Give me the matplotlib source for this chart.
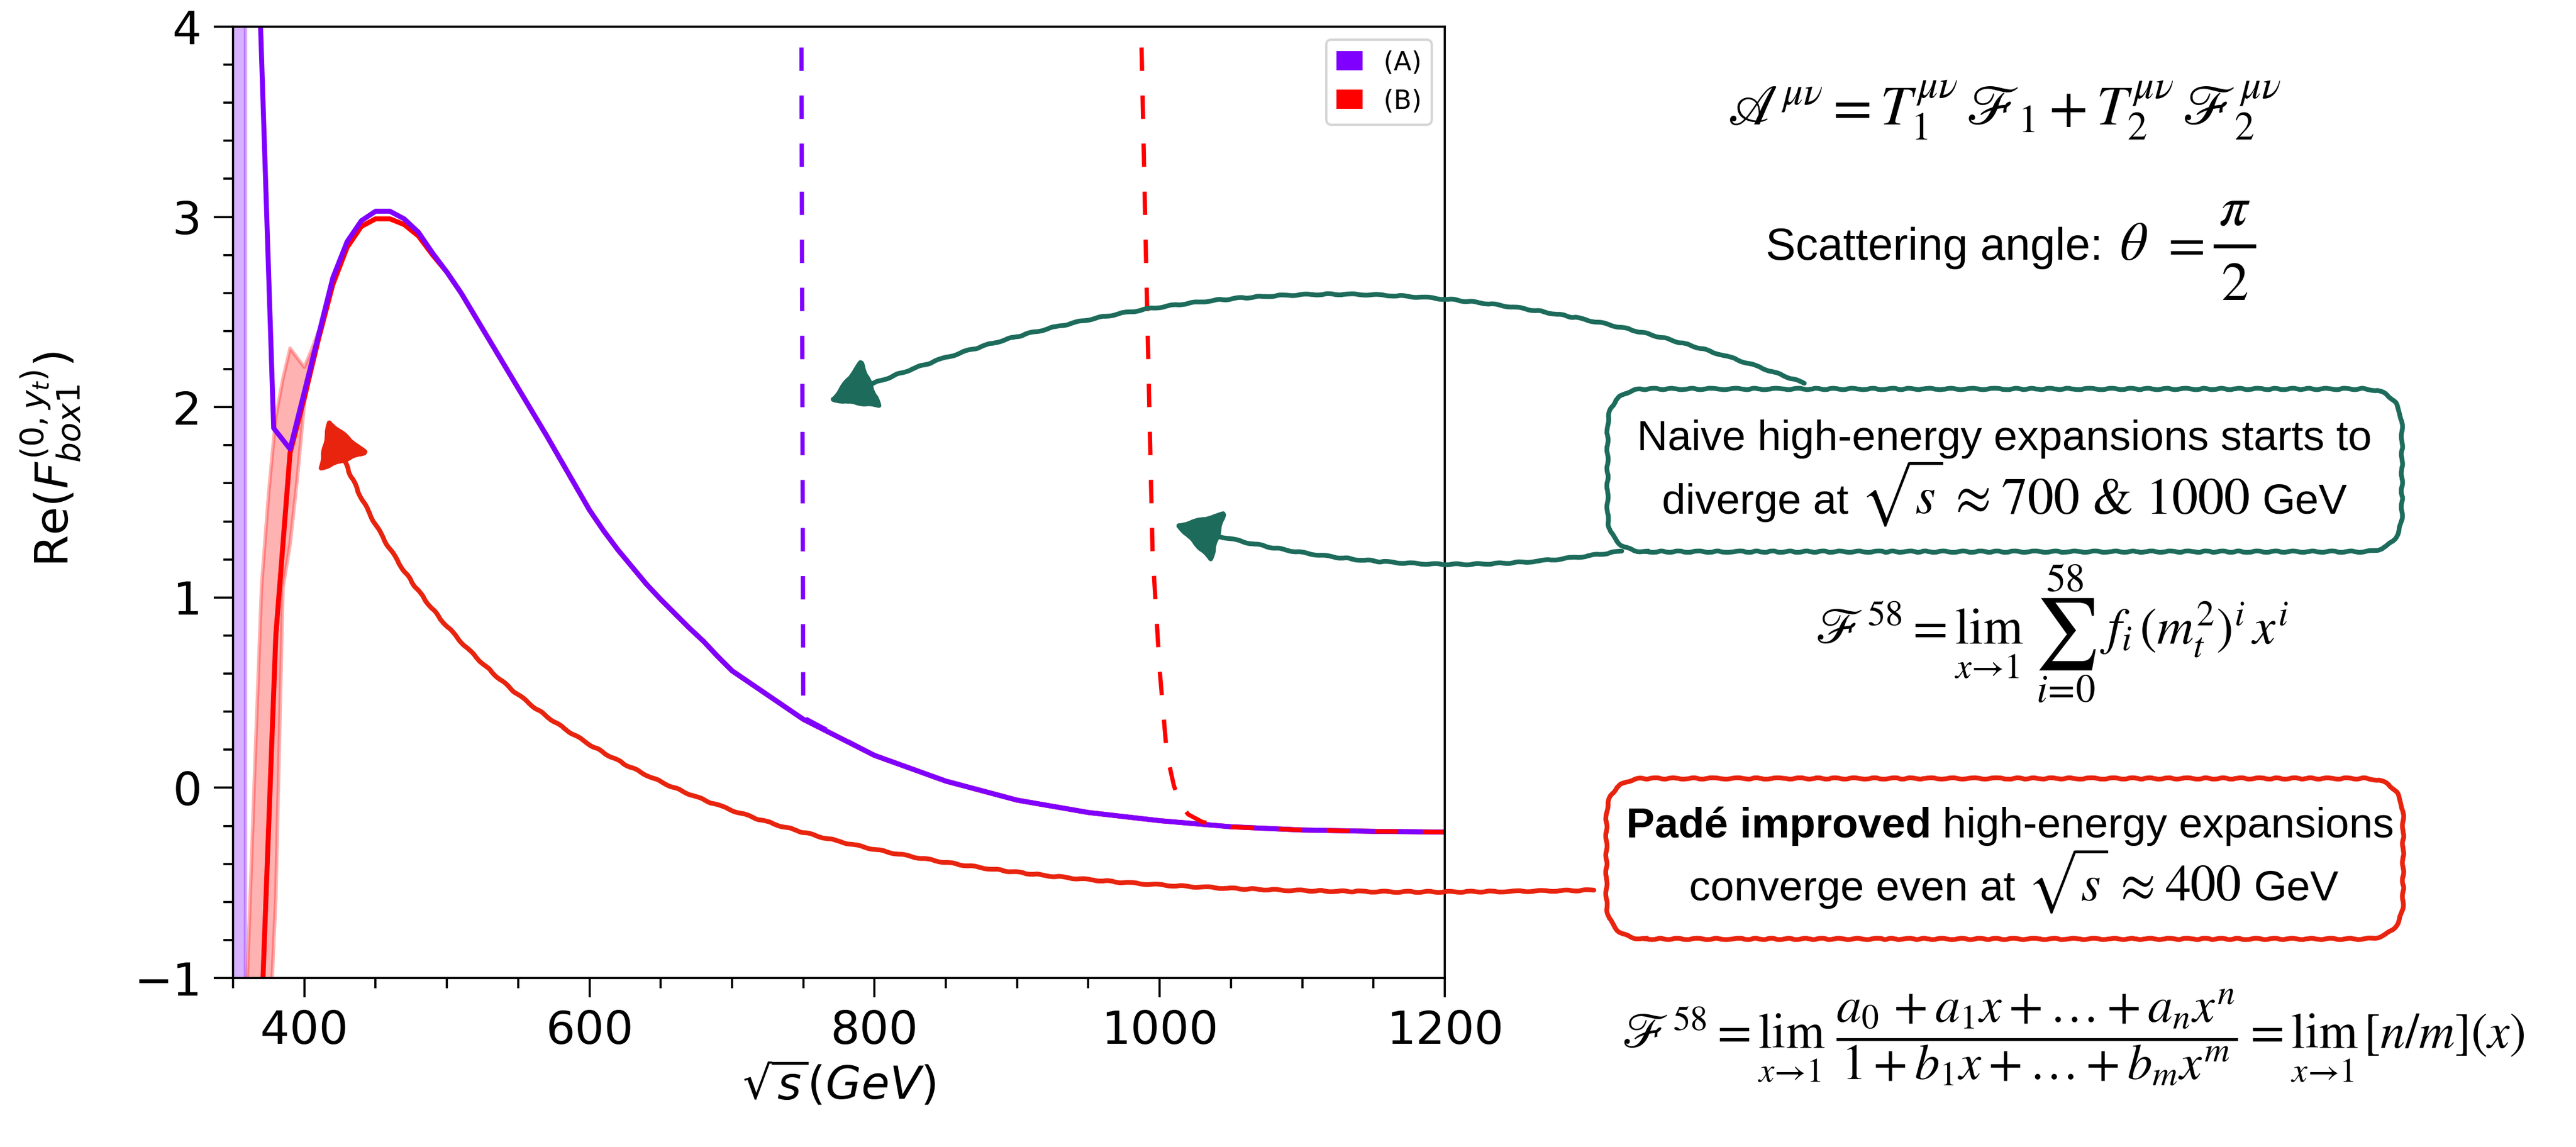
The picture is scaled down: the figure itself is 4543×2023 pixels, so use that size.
#!/usr/bin/env python3
# Re(F_box1) vs sqrt(s): exact curves (A)/(B), naive high-energy expansions (dashed),
# uncertainty bands, plus the hand-drawn style annotations on the right.

import matplotlib

matplotlib.use("Agg")

import matplotlib.pyplot as plt
from matplotlib.lines import Line2D
from matplotlib.patches import FancyArrowPatch, FancyBboxPatch, Patch
from matplotlib.path import Path
from matplotlib.ticker import MultipleLocator
from matplotlib.transforms import IdentityTransform

W, H, DPI = 4543, 2023, 300

# ---------------------------------------------------------------------------------------------
# Data
# ---------------------------------------------------------------------------------------------

ENERGY_A = [368, 378.5, 390, 400, 410, 420, 430, 440, 450, 460, 470, 480, 490, 500, 510, 520,
            530, 540, 550, 560, 570, 580, 590, 600, 610, 620, 630, 640, 650, 660, 670, 680, 690,
            700, 750, 800, 850, 900, 950, 1000, 1050, 1100, 1150, 1200]
RE_A = [4.30, 1.89, 1.78, 2.08, 2.38, 2.68, 2.87, 2.98, 3.03, 3.03, 2.99, 2.92, 2.81, 2.71, 2.60,
        2.475, 2.35, 2.225, 2.10, 1.975, 1.85, 1.72, 1.59, 1.46, 1.35, 1.25, 1.16, 1.07, 0.99,
        0.915, 0.84, 0.77, 0.69, 0.615, 0.36, 0.17, 0.035, -0.065, -0.13, -0.173, -0.205,
        -0.222, -0.229, -0.233]

ENERGY_B = [360, 370, 380, 390, 400, 410, 420, 430, 440, 450, 460, 470, 480, 490, 500, 510, 520,
            530, 540, 550, 560, 570, 580, 590, 600, 610, 620, 630, 640, 650, 660, 670, 680, 690,
            700, 750, 800, 850, 900, 950, 1000, 1050, 1100, 1150, 1200]
RE_B = [-12.0, -1.2, 0.8, 1.76, 2.05, 2.36, 2.645, 2.84, 2.95, 2.99, 2.99, 2.96, 2.90, 2.80, 2.71,
        2.60, 2.475, 2.35, 2.225, 2.10, 1.975, 1.85, 1.72, 1.59, 1.46, 1.35, 1.25, 1.16, 1.07,
        0.99, 0.915, 0.84, 0.77, 0.69, 0.615, 0.36, 0.17, 0.035, -0.065, -0.13, -0.173, -0.205,
        -0.222, -0.229, -0.233]

# uncertainty bands
BAND_A_X = [345, 358.7]
BAND_A_LO = [-40, -40]
BAND_A_HI = [40, 40]

BAND_B_X = [360, 365, 370, 375, 380, 385, 390, 395, 400, 405, 410]
BAND_B_LO = [-8.0, -5.0, -3.0, -1.4, -0.58, 1.05, 1.28, 1.62, 2.02, 2.20, 2.36]
BAND_B_HI = [-1.0, 0.05, 1.06, 1.55, 1.95, 2.15, 2.31, 2.26, 2.21, 2.30, 2.40]

# naive high-energy expansions
NAIVE_A_X = [700, 750, 800, 850, 900, 950, 1000, 1050, 1100, 1150, 1200]
NAIVE_A = [140.0, 0.37, 0.17, 0.035, -0.065, -0.13, -0.173, -0.205, -0.222, -0.229, -0.233]

NAIVE_B_X = [980, 985, 990, 995, 1000, 1005, 1010, 1015, 1020, 1030, 1040, 1050, 1100, 1150, 1200]
NAIVE_B = [7.2, 4.71, 2.93, 1.24, 0.62, 0.18, 0.01, -0.09, -0.14, -0.18, -0.195, -0.206, -0.222,
           -0.229, -0.233]

LEGEND_LABELS = ["(A)", "(B)"]

PURPLE = "#7f00ff"
RED = "#ff0000"
TEAL = "#1d6b5b"
SKETCH_RED = "#e8240f"

TEXT_FONT = "Liberation Sans"
MATH_FONT = "STIXGeneral"
BOX_TEXT_SIZE = 18


def px(x, y):
    """Reference pixel (origin top-left) -> display coords (origin bottom-left)."""
    return (x, H - y)


# ---------------------------------------------------------------------------------------------
# Main plot
# ---------------------------------------------------------------------------------------------


def draw_plot(fig):
    ax = fig.add_axes([411 / W, 1 - 1725 / H, (2548 - 411) / W, (1725 - 47) / H])

    ax.fill_between(BAND_A_X, BAND_A_LO, BAND_A_HI, color=PURPLE, alpha=0.3, lw=1.5)
    ax.fill_between(BAND_B_X, BAND_B_LO, BAND_B_HI, color=RED, alpha=0.3, lw=1.5)

    ax.plot(ENERGY_B, RE_B, color=RED, lw=2.1)
    ax.plot(ENERGY_A, RE_A, color=PURPLE, lw=2.1)
    ax.plot(NAIVE_A_X, NAIVE_A, color=PURPLE, lw=1.8, linestyle=(0, (5.5, 5.8)))
    ax.plot(NAIVE_B_X, NAIVE_B, color=RED, lw=1.8, linestyle=(0, (5.5, 5.8)))

    ax.set_xlim(350, 1200)
    ax.set_ylim(-1, 4)
    ax.xaxis.set_major_locator(MultipleLocator(200))
    ax.xaxis.set_minor_locator(MultipleLocator(50))
    ax.yaxis.set_major_locator(MultipleLocator(1))
    ax.yaxis.set_minor_locator(MultipleLocator(0.2))
    ax.tick_params(which="major", direction="out", length=8.2, width=0.9, labelsize=19.5, pad=5)
    ax.tick_params(which="minor", direction="out", length=4.2, width=0.9)
    for spine in ax.spines.values():
        spine.set_linewidth(0.9)

    ax.set_xlabel(r"$\sqrt{s}(GeV)$", fontsize=19.5, labelpad=3)
    ax.set_ylabel(r"Re($F^{(0,y_t)}_{box1}$)", fontsize=19.5)
    ax.yaxis.set_label_coords(-0.124, 0.545)

    handles = [Patch(facecolor=PURPLE, label=LEGEND_LABELS[0]),
               Patch(facecolor=RED, label=LEGEND_LABELS[1])]
    ax.legend(handles=handles, loc="upper right", fontsize=11, handlelength=1.0,
              handleheight=0.75)
    return ax


# ---------------------------------------------------------------------------------------------
# Annotations (hand-drawn look)
# ---------------------------------------------------------------------------------------------


def ptext(fig, x, y, s, size, **kw):
    kw.setdefault("ha", "center")
    kw.setdefault("va", "baseline")
    kw.setdefault("family", TEXT_FONT)
    return fig.text(*px(x, y), s, fontsize=size, transform=IdentityTransform(),
                    math_fontfamily="stix", **kw)


def text_run(fig, y, cx, pieces):
    """Lay several differently styled pieces out on one baseline, centred on cx."""
    renderer = fig.canvas.get_renderer()
    arts, widths = [], []
    for s, size, kw in pieces:
        t = ptext(fig, 0, y, s, size, ha="left", **kw)
        arts.append(t)
        widths.append(t.get_window_extent(renderer).width)
    gap = 0.278 * BOX_TEXT_SIZE * DPI / 72
    x = cx - (sum(widths) + gap * (len(pieces) - 1)) / 2
    for t, w in zip(arts, widths):
        t.set_position(px(x, y))
        x += w + gap


def sketch_box(fig, x0, y0, x1, y1, color):
    box = FancyBboxPatch(px(x0, y1), x1 - x0, y1 - y0,
                         boxstyle="round,pad=0,rounding_size=70", fill=False,
                         edgecolor=color, lw=2.0, transform=IdentityTransform())
    box.set_sketch_params(1.2, 40, 3)
    fig.add_artist(box)


def sketch_arrow(fig, color, path=None, tail=None, tip=None, rad=0.0):
    style = "-|>,head_length=16.8,head_width=9.8"
    kw = dict(arrowstyle=style, mutation_scale=1, color=color, lw=2.0,
              transform=IdentityTransform())
    if path is not None:
        verts = [px(x, y) for x, y in path]
        codes = [Path.MOVETO] + [Path.CURVE4] * (len(verts) - 1)
        arrow = FancyArrowPatch(path=Path(verts, codes), **kw)
    else:
        arrow = FancyArrowPatch(px(*tail), px(*tip), connectionstyle=f"arc3,rad={rad}",
                                shrinkA=0, shrinkB=0, **kw)
    arrow.set_sketch_params(1.0, 50, 3)
    fig.add_artist(arrow)


def draw_annotations(fig):
    ptext(fig, 3535, 195,
          r"$\mathscr{A}^{\mu\nu} = T_1^{\mu\nu}\,\mathscr{F}_1 + T_2^{\mu\nu}\,"
          r"\mathscr{F}_2^{\mu\nu}$", 24, va="center")

    # Scattering angle: theta = pi / 2 (display-size fraction built by hand)
    ptext(fig, 3114, 458, "Scattering angle:", 19, ha="left")
    ptext(fig, 3763, 458, r"$\theta$", 23)
    ptext(fig, 3848, 458, r"$=$", 23)
    ptext(fig, 3941, 397, r"$\pi$", 24)
    ptext(fig, 3941, 529, "2", 23, family=MATH_FONT)
    fig.add_artist(Line2D([3907, 3975], [H - 434, H - 434], color="black", lw=1.7,
                          transform=IdentityTransform()))

    # naive expansion box
    sketch_box(fig, 2835, 686, 4236, 973, TEAL)
    ptext(fig, 3535, 794, "Naive high-energy expansions starts to", BOX_TEXT_SIZE)
    text_run(fig, 906, 3535, [
        ("diverge at", BOX_TEXT_SIZE, {}),
        (r"$\sqrt{s}\,\approx$", 22, {}),
        ("700 & 1000", 22, {"family": MATH_FONT}),
        ("GeV", BOX_TEXT_SIZE, {}),
    ])

    # truncated series, display-size sum sign with limits
    ptext(fig, 3201, 1136, r"$\mathscr{F}^{58} = \lim_{x\to1}$", 21.5, ha="left")
    ptext(fig, 3643, 1118, r"$\sum$", 30, va="center")
    ptext(fig, 3643, 1044, "58", 16.5, family=MATH_FONT)
    ptext(fig, 3643, 1238, r"$i\!=\!0$", 16.5)
    ptext(fig, 3703, 1136, r"$f_i\,(m_t^2)^i\,x^i$", 21.5, ha="left")

    # Padé box
    sketch_box(fig, 2833, 1373, 4238, 1656, SKETCH_RED)
    text_run(fig, 1477, 3545, [
        ("Padé improved", BOX_TEXT_SIZE, {"weight": "bold"}),
        ("high-energy expansions", BOX_TEXT_SIZE, {}),
    ])
    text_run(fig, 1588, 3552, [
        ("converge even at", BOX_TEXT_SIZE, {}),
        (r"$\sqrt{s}\,\approx$", 21.5, {}),
        ("400", 21.5, {"family": MATH_FONT}),
        ("GeV", BOX_TEXT_SIZE, {}),
    ])

    ptext(fig, 3656, 1849,
          r"$\mathscr{F}^{58} = \lim_{x\to1}\ \dfrac{a_0 + a_1x + \ldots + a_nx^n}"
          r"{1 + b_1x + \ldots + b_mx^m} = \lim_{x\to1}\,[n/m](x)$", 21)

    # arrows
    sketch_arrow(fig, TEAL, tail=(3182, 676), tip=(1462, 708), rad=0.2)
    sketch_arrow(fig, TEAL, tail=(2860, 972), tip=(2071, 925), rad=-0.11)
    sketch_arrow(fig, SKETCH_RED,
                 path=[(2811, 1570), (1700, 1590), (866, 1530), (578, 738)])


def main():
    fig = plt.figure(figsize=(W / DPI, H / DPI), dpi=DPI)
    draw_plot(fig)
    draw_annotations(fig)
    fig.savefig("out.png", dpi=DPI)


if __name__ == "__main__":
    main()
